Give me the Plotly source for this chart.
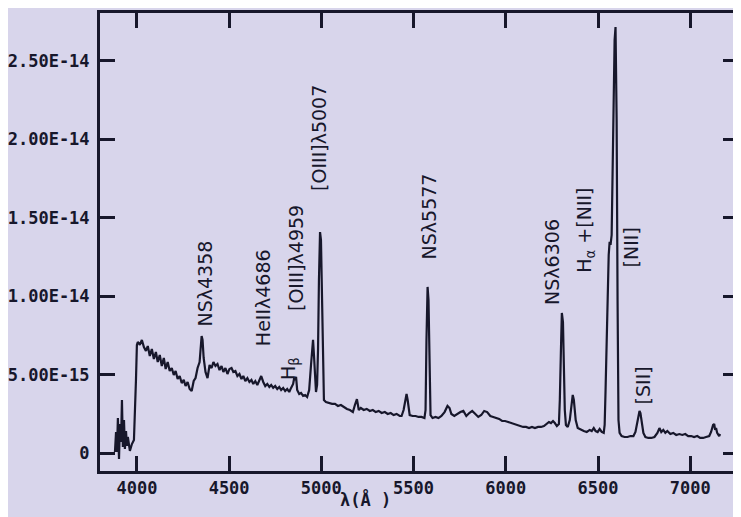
import plotly.graph_objects as go

# Wavelength (Angstrom) and flux (units of 1E-15)
wavelength = [
    3881, 3887, 3892, 3897, 3903, 3908, 3914, 3919, 3924, 3930, 3935, 3941, 3946, 3951, 3962, 3973, 3984, 3989, 3995,
    4000, 4005, 4016, 4027, 4038, 4049, 4059, 4070, 4081, 4092, 4103, 4113, 4124, 4135, 4146, 4156, 4167, 4178, 4189,
    4200, 4210, 4221, 4232, 4243, 4254, 4264, 4275, 4286, 4297, 4308, 4318, 4329, 4340, 4345, 4351, 4356, 4362, 4372,
    4383, 4394, 4405, 4415, 4426, 4437, 4448, 4459, 4469, 4480, 4491, 4502, 4513, 4523, 4534, 4545, 4556, 4567, 4577,
    4588, 4599, 4610, 4621, 4631, 4642, 4653, 4664, 4674, 4685, 4696, 4707, 4718, 4728, 4739, 4750, 4761, 4772, 4782,
    4793, 4804, 4815, 4826, 4836, 4847, 4853, 4858, 4863, 4869, 4880, 4890, 4901, 4912, 4923, 4934, 4944, 4950, 4955,
    4960, 4966, 4971, 4977, 4982, 4987, 4993, 4998, 5004, 5009, 5014, 5025, 5041, 5058, 5074, 5090, 5106, 5122, 5139,
    5155, 5171, 5182, 5193, 5203, 5214, 5230, 5246, 5263, 5279, 5295, 5311, 5327, 5344, 5360, 5376, 5392, 5408, 5425,
    5435, 5446, 5457, 5462, 5468, 5479, 5495, 5511, 5527, 5543, 5559, 5565, 5570, 5576, 5581, 5587, 5592, 5603, 5619,
    5635, 5651, 5668, 5684, 5695, 5705, 5721, 5737, 5754, 5770, 5786, 5802, 5818, 5835, 5851, 5867, 5883, 5899, 5916,
    5932, 5948, 5964, 5980, 5996, 6013, 6029, 6045, 6061, 6077, 6094, 6110, 6126, 6142, 6158, 6175, 6191, 6207, 6223,
    6234, 6245, 6256, 6266, 6277, 6288, 6293, 6299, 6304, 6310, 6315, 6320, 6326, 6336, 6347, 6358, 6363, 6369, 6379,
    6390, 6407, 6423, 6439, 6455, 6466, 6477, 6487, 6498, 6509, 6520, 6531, 6536, 6541, 6547, 6552, 6558, 6563, 6568,
    6574, 6579, 6584, 6590, 6595, 6601, 6606, 6611, 6617, 6628, 6644, 6660, 6676, 6692, 6703, 6714, 6719, 6725, 6730,
    6735, 6746, 6757, 6773, 6789, 6806, 6822, 6833, 6843, 6854, 6865, 6876, 6892, 6908, 6924, 6941, 6957, 6973, 6989,
    7005, 7021, 7038, 7054, 7070, 7086, 7103, 7113, 7124, 7130, 7135, 7140, 7146, 7157, 7162,
]
flux_e15 = [
    0.06, 1.34, 0.06, 2.23, -0.38, 1.85, 0.70, 3.38, 0.38, 2.10, 0.26, 1.40, 0.45, 1.02, 0.13, 0.57, 0.83, 2.10, 4.66,
    6.89, 7.08, 6.89, 7.21, 6.76, 6.51, 6.82, 6.19, 6.63, 5.99, 6.44, 5.80, 6.25, 5.55, 6.06, 5.36, 5.80, 5.23, 5.42,
    4.97, 5.23, 4.72, 4.91, 4.46, 4.66, 4.27, 4.53, 4.08, 3.95, 4.59, 4.78, 5.42, 5.80, 6.57, 7.46, 7.21, 6.06, 5.17,
    4.78, 5.61, 5.42, 5.80, 5.55, 5.68, 5.29, 5.55, 5.17, 5.42, 5.04, 5.36, 5.42, 5.17, 5.23, 4.91, 5.04, 4.72, 4.91,
    4.59, 4.78, 4.53, 4.66, 4.40, 4.59, 4.34, 4.66, 4.91, 4.53, 4.27, 4.40, 4.21, 4.34, 4.15, 4.27, 4.08, 4.21, 4.02,
    4.15, 3.95, 4.08, 3.89, 4.15, 4.40, 4.78, 4.66, 4.85, 4.02, 3.76, 3.83, 3.64, 3.70, 3.57, 4.02, 5.61, 6.89, 7.21,
    6.25, 4.66, 3.89, 4.34, 6.57, 11.03, 14.09, 13.58, 8.48, 4.34, 3.38, 3.25, 3.19, 3.13, 3.13, 3.00, 3.06, 2.93, 2.81,
    2.74, 2.61, 3.06, 3.44, 2.74, 2.87, 2.74, 2.81, 2.68, 2.74, 2.61, 2.68, 2.55, 2.61, 2.49, 2.55, 2.42, 2.49, 2.36,
    2.36, 2.74, 3.64, 3.76, 3.38, 2.42, 2.36, 2.36, 2.30, 2.30, 2.23, 2.74, 7.21, 10.59, 9.76, 4.66, 2.42, 2.23, 2.30,
    2.23, 2.36, 2.61, 3.00, 2.87, 2.49, 2.36, 2.49, 2.61, 2.68, 2.36, 2.55, 2.68, 2.49, 2.30, 2.42, 2.68, 2.61, 2.36,
    2.30, 2.23, 2.17, 2.04, 2.04, 1.98, 1.91, 1.85, 1.79, 1.72, 1.66, 1.66, 1.59, 1.66, 1.59, 1.66, 1.66, 1.72, 1.85,
    1.98, 1.91, 2.04, 1.91, 1.72, 1.85, 3.38, 6.57, 8.93, 8.35, 5.29, 2.74, 1.79, 1.66, 2.10, 3.38, 3.70, 3.38, 2.10,
    1.59, 1.47, 1.40, 1.34, 1.47, 1.40, 1.59, 1.40, 1.34, 1.53, 1.34, 1.28, 1.79, 4.02, 7.21, 10.40, 12.63, 13.46, 13.27,
    13.90, 18.05, 23.15, 26.34, 27.17, 21.24, 9.76, 2.10, 1.28, 1.08, 1.02, 1.02, 1.08, 1.08, 1.34, 1.98, 2.49, 2.68, 2.55,
    2.10, 1.28, 1.02, 0.96, 0.96, 1.02, 1.28, 1.59, 1.34, 1.47, 1.28, 1.40, 1.21, 1.28, 1.15, 1.21, 1.15, 1.21, 1.08,
    1.08, 1.02, 1.08, 0.96, 0.96, 1.02, 1.08, 1.34, 1.79, 1.85, 1.47, 1.59, 1.28, 1.08, 1.21,
]

y_tick_values = [0, 5, 10, 15, 20, 25]
y_tick_labels = ["0", "5.00E-15", "1.00E-14", "1.50E-14", "2.00E-14", "2.50E-14"]
x_tick_values = [4000, 4500, 5000, 5500, 6000, 6500, 7000]
x_tick_labels = ["4000", "4500", "5000", "5500", "6000", "6500", "7000"]

# line identifications: text, wavelength, flux (1E-15) of label centre
line_labels = ["NSλ4358", "HeIIλ4686", "[OIII]λ4959", "H<sub>β</sub>", "[OIII]λ5007",
               "NSλ5577", "NSλ6306", "H<sub>α</sub> +[NII]", "[NII]", "[SII]"]
label_wavelength = [4367, 4685, 4863, 4831, 4987, 5586, 6250, 6428, 6676, 6741]
label_flux = [10.78, 9.89, 12.44, 5.36, 20.09, 15.11, 12.18, 14.22, 13.14, 4.34]

BG = "#d8d5eb"
INK = "#17172b"
TICKFONT = dict(family="DejaVu Sans Mono", size=17, color=INK, weight="bold")

fig = go.Figure()
fig.add_trace(go.Scatter(x=wavelength, y=flux_e15, mode="lines",
                         line=dict(color=INK, width=2.2), showlegend=False))

for txt, lx, ly in zip(line_labels, label_wavelength, label_flux):
    fig.add_annotation(x=lx, y=ly, xref="x", yref="y", text=txt, showarrow=False,
                       textangle=-90, xanchor="center", yanchor="middle",
                       font=dict(family="DejaVu Sans", size=19, color=INK))

fig.add_annotation(x=0.4165, y=-0.062, xref="paper", yref="paper", text="λ(Å )",
                   showarrow=False, xanchor="center", yanchor="middle",
                   font=dict(family="DejaVu Sans Mono", size=17, color=INK, weight="bold"))

fig.update_xaxes(range=[3800, 7259], tickvals=x_tick_values, ticktext=x_tick_labels,
                 ticks="inside", ticklen=15, tickwidth=3, tickcolor=INK,
                 showline=True, linewidth=3, linecolor=INK, mirror="ticks",
                 showgrid=False, zeroline=False, tickfont=TICKFONT)
fig.update_yaxes(range=[-1.148, 28.06], tickvals=y_tick_values, ticktext=y_tick_labels,
                 ticks="inside", ticklen=15, tickwidth=3, tickcolor=INK,
                 showline=True, linewidth=3, linecolor=INK, mirror="ticks",
                 showgrid=False, zeroline=False, tickfont=TICKFONT, ticklabelstandoff=4)

# the page adds an 8 px body margin, so the figure is made 8 px smaller on each axis
fig.update_layout(width=733, height=509, paper_bgcolor=BG, plot_bgcolor=BG,
                  margin=dict(l=92, r=0, t=5, b=46), showlegend=False)

fig.write_html("out.html")
